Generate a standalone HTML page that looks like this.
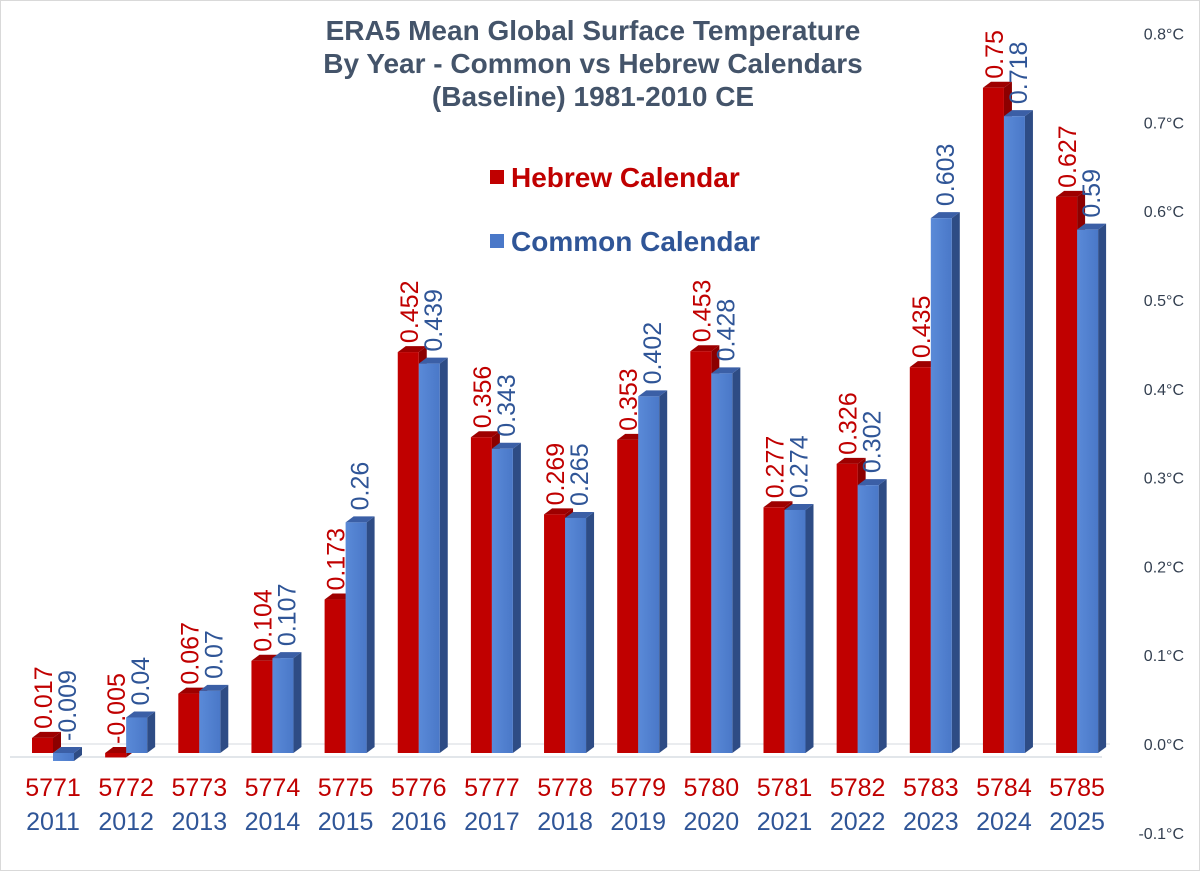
<!DOCTYPE html>
<html><head><meta charset="utf-8"><style>
html,body{margin:0;padding:0;background:#fff}
svg{display:block;font-family:"Liberation Sans",sans-serif}
</style></head><body>
<svg id="chart" width="1200" height="871" viewBox="0 0 1200 871">
<defs>
<linearGradient id="blueGrad" x1="0" y1="0" x2="1" y2="0">
<stop offset="0" stop-color="#5a8ad8"/><stop offset="1" stop-color="#4a78c8"/>
</linearGradient>
</defs>
<rect x="0.5" y="0.5" width="1199" height="870" fill="#fff" stroke="#d9d9d9"/>
<g fill="#44546a" font-weight="bold" font-size="28" text-anchor="middle">
<text x="593" y="40">ERA5 Mean Global Surface Temperature</text>
<text x="593" y="73">By Year - Common vs Hebrew Calendars</text>
<text x="593" y="106">(Baseline) 1981-2010 CE</text>
</g>
<g>
<g>
<rect x="490" y="170" width="14" height="14" fill="#c00000"/>
<text x="511" y="187" fill="#c00000" font-size="28" font-weight="bold">Hebrew Calendar</text>
</g>
<g>
<rect x="490" y="234" width="14" height="14" fill="#4a78c8"/>
<text x="511" y="251" fill="#2f5597" font-size="28" font-weight="bold">Common Calendar</text>
</g>
</g>
<g id="grid"></g>
<g id="bars"></g>
<g id="labels"></g>
</svg>
<script>
const hebrewYears=["5771","5772","5773","5774","5775","5776","5777","5778","5779","5780","5781","5782","5783","5784","5785"];
const commonYears=["2011","2012","2013","2014","2015","2016","2017","2018","2019","2020","2021","2022","2023","2024","2025"];
const hebrewValues=[0.017,-0.005,0.067,0.104,0.173,0.452,0.356,0.269,0.353,0.453,0.277,0.326,0.435,0.75,0.627];
const commonValues=[-0.009,0.04,0.07,0.107,0.26,0.439,0.343,0.265,0.402,0.428,0.274,0.302,0.603,0.718,0.59];
const tickValues=[0.8,0.7,0.6,0.5,0.4,0.3,0.2,0.1,0.0,-0.1];
const tickLabels=["0.8°C","0.7°C","0.6°C","0.5°C","0.4°C","0.3°C","0.2°C","0.1°C","0.0°C","-0.1°C"];

const NS="http://www.w3.org/2000/svg";
const yFront=v=>753-v*887;
const yAxis=v=>744-v*888;
const xCat=i=>32+i*73.15;
const BW=21,DX=8,DY=6;
function mk(tag,attrs,parent){const e=document.createElementNS(NS,tag);for(const k in attrs)e.setAttribute(k,attrs[k]);parent.appendChild(e);return e;}
const grid=document.getElementById('grid'),bars=document.getElementById('bars'),labels=document.getElementById('labels');

tickValues.forEach((v,i)=>{
  const y=yAxis(v);
  const t=mk('text',{x:1184,y:y+6,'text-anchor':'end','font-size':16,fill:'#333f50'},grid);
  t.textContent=tickLabels[i];
  
  
});
const zl=mk('line',{x1:40,x2:1110,y1:yAxis(0),y2:yAxis(0),stroke:'#e3e6ea','stroke-width':1.5},grid);


const fl=mk('line',{x1:10,x2:1102,y1:757,y2:757,stroke:'#d9dde3','stroke-width':1.5},grid);



function bar(x,v,front,side,top,name){
  const g=mk('g',{},bars);
  
  
  const y0=yFront(0),y1=yFront(v);
  const ty=Math.min(y0,y1),by=Math.max(y0,y1);
  mk('polygon',{points:`${x+BW},${ty} ${x+BW+DX},${ty-DY} ${x+BW+DX},${by-DY} ${x+BW},${by}`,fill:side},g);
  mk('polygon',{points:`${x},${ty} ${x+DX},${ty-DY} ${x+BW+DX},${ty-DY} ${x+BW},${ty}`,fill:top},g);
  mk('rect',{x:x,y:ty,width:BW,height:Math.max(by-ty,1),fill:front},g);
  return ty;
}
function vlabel(x,y,txt,color,name){
  const t=mk('text',{x:0,y:0,transform:`translate(${x},${y}) rotate(-90)`,'font-size':25,fill:color},labels);
  t.textContent=txt;
  
  
}
hebrewValues.forEach((v,i)=>{
  const x=xCat(i);
  const ty=bar(x,v,'#c00000','#8c0000','#9e0000','bar-hebrew-'+hebrewYears[i]);
  vlabel(x+20,Math.min(ty,yFront(0))-DY-3,String(v),'#c00000','value-label-hebrew-'+hebrewYears[i]);
  const cv=commonValues[i];
  const ty2=bar(x+BW,cv,'url(#blueGrad)','#2e4c85','#3b5fa6','bar-common-'+commonYears[i]);
  vlabel(x+BW+23,Math.min(ty2,yFront(0))-DY-6,String(cv),'#2f5597','value-label-common-'+commonYears[i]);
  const cx=x+BW;
  const a=mk('text',{x:cx,y:796,'text-anchor':'middle','font-size':25,fill:'#c00000'},labels);
  a.textContent=hebrewYears[i];
  
  
  const b=mk('text',{x:cx,y:830,'text-anchor':'middle','font-size':25,fill:'#2f5597'},labels);
  b.textContent=commonYears[i];
  
  
});
</script>
</body></html>
